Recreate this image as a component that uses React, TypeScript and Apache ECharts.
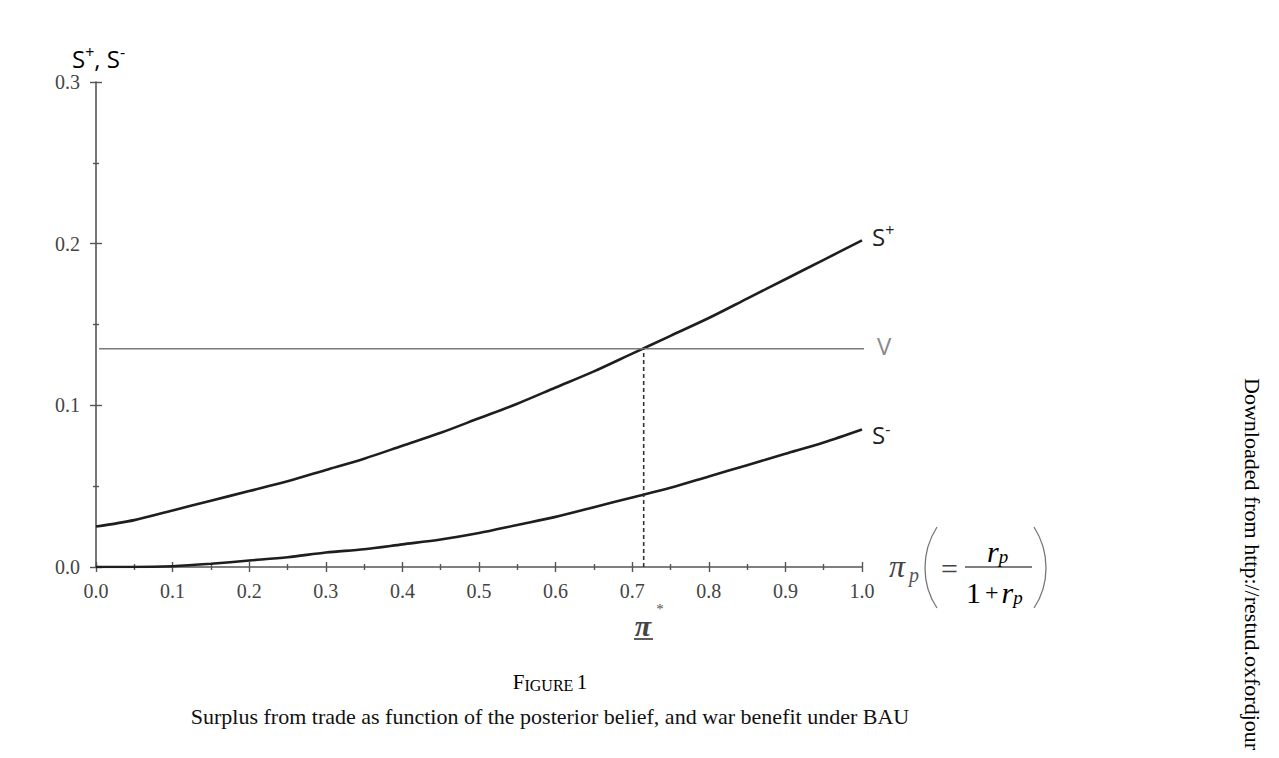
import { useEffect, useRef } from 'react'
import * as echarts from 'echarts'

// posterior belief grid (pi_p)
const xs = [0, 0.05, 0.1, 0.15, 0.2, 0.25, 0.3, 0.35, 0.4, 0.45, 0.5, 0.55, 0.6, 0.65, 0.7, 0.75, 0.8, 0.85, 0.9, 0.95, 1.0]
// surplus from trade, upper and lower
const sPlus = [0.025, 0.029, 0.035, 0.041, 0.047, 0.053, 0.06, 0.067, 0.075, 0.083, 0.092, 0.101, 0.111, 0.121, 0.132, 0.143, 0.154, 0.166, 0.178, 0.19, 0.202]
const sMinus = [0, 0, 0.0005, 0.002, 0.004, 0.006, 0.009, 0.011, 0.014, 0.017, 0.021, 0.026, 0.031, 0.037, 0.043, 0.049, 0.056, 0.063, 0.07, 0.077, 0.085]
// war benefit V and the threshold pi*
const warV = 0.135
const vSpan = [0.004, 1.013]
const piStar = 0.715

const xTicks = { min: 0, max: 1, interval: 0.1 }
const yTicks = { min: 0, max: 0.3, interval: 0.1 }

const SERIF = '"Liberation Serif", "Times New Roman", serif'
const SANS = '"Open Sans", "DejaVu Sans", sans-serif'
const AXIS = '#555'
const CURVE = '#1e1e1e'

const pair = (ys: number[]) => xs.map((x, i) => [x, ys[i]])

const supRich = {
  b: { fontFamily: SANS, fontSize: 24, color: '#222', lineHeight: 28 },
  u: { fontFamily: SANS, fontSize: 16, color: '#222', lineHeight: 14, verticalAlign: 'top' as const },
}

function axisPair(kind: 'x' | 'y') {
  const t = kind === 'x' ? xTicks : yTicks
  const len = kind === 'x' ? 5 : 6
  const common = {
    type: 'value' as const,
    min: t.min,
    max: t.max,
    interval: t.interval,
    splitLine: { show: false },
    axisLine: { show: true, onZero: false, lineStyle: { color: AXIS, width: 1.6 } },
    axisTick: { show: true, length: len, lineStyle: { color: AXIS, width: 1.4 } },
    minorTick: { show: true, splitNumber: 2, length: 3, lineStyle: { color: AXIS, width: 1.4 } },
  }
  return [
    {
      ...common,
      position: kind === 'x' ? 'bottom' : 'left',
      axisLabel: {
        color: '#444',
        fontFamily: SERIF,
        fontSize: 20,
        margin: kind === 'x' ? 14 : 16,
        formatter: (v: number) => v.toFixed(1),
      },
    },
    {
      ...common,
      position: kind === 'x' ? 'bottom' : 'left',
      axisLine: { show: false, onZero: false },
      axisTick: { ...common.axisTick, inside: true },
      axisLabel: { show: false },
    },
  ]
}

export default function App() {
  const ref = useRef<HTMLDivElement | null>(null)

  useEffect(() => {
    const el = ref.current
    if (!el) return
    const chart = echarts.init(el, undefined, { renderer: 'svg' })

    chart.setOption({
      animation: false,
      backgroundColor: '#fff',
      grid: { left: 96, right: 417, top: 82, bottom: 191, containLabel: false },
      xAxis: axisPair('x'),
      yAxis: axisPair('y'),
      series: [
        {
          name: 'S+',
          type: 'line',
          data: pair(sPlus),
          smooth: 0.3,
          showSymbol: false,
          lineStyle: { color: CURVE, width: 2.6 },
          endLabel: { show: true, formatter: '{b|S}{u|+}', distance: 10, offset: [0, -4], rich: supRich },
        },
        {
          name: 'S-',
          type: 'line',
          data: pair(sMinus),
          smooth: 0.3,
          showSymbol: false,
          lineStyle: { color: CURVE, width: 2.6 },
          endLabel: { show: true, formatter: '{b|S}{u|-}', distance: 10, offset: [0, 5], rich: supRich },
        },
        {
          name: 'V',
          type: 'line',
          data: vSpan.map((x) => [x, warV]),
          clip: false,
          showSymbol: false,
          lineStyle: { color: '#7a7a7a', width: 1.6 },
          endLabel: {
            show: true,
            formatter: 'V',
            distance: 13,
            offset: [0, -3],
            color: '#8a8a8a',
            fontFamily: SANS,
            fontSize: 24,
          },
        },
        {
          name: 'pi*',
          type: 'line',
          data: [[piStar, 0], [piStar, warV]],
          showSymbol: false,
          lineStyle: { color: '#333', width: 1.6, type: [4, 3] },
        },
      ],
      graphic: [
        // y axis title
        {
          type: 'text',
          x: 72,
          y: 58,
          style: {
            text: '{b|S}{u|+}{b|, S}{u|-}',
            rich: supRich,
            textVerticalAlign: 'middle',
          },
        },
        // pi* under the axis
        {
          type: 'text',
          x: 643,
          y: 625,
          style: { text: 'π', font: `italic bold 30px ${SERIF}`, fill: '#444', textAlign: 'center', textVerticalAlign: 'middle' },
        },
        {
          type: 'text',
          x: 660,
          y: 609,
          style: { text: '*', font: `15px ${SERIF}`, fill: '#555', textAlign: 'center', textVerticalAlign: 'middle' },
        },
        { type: 'line', shape: { x1: 634, y1: 639, x2: 653, y2: 639 }, style: { stroke: '#333', lineWidth: 1.6 } },
        // x axis name: pi_p (= r_p / (1 + r_p))
        {
          type: 'text',
          x: 889,
          y: 566,
          style: { text: 'π', font: `italic 32px ${SERIF}`, fill: '#444', textVerticalAlign: 'middle' },
        },
        {
          type: 'text',
          x: 909,
          y: 575,
          style: { text: 'p', font: `italic 20px ${SERIF}`, fill: '#555', textVerticalAlign: 'middle' },
        },
        {
          type: 'bezierCurve',
          shape: { x1: 937, y1: 527, cpx1: 921, cpy1: 552, cpx2: 921, cpy2: 584, x2: 937, y2: 608 },
          style: { stroke: '#777', lineWidth: 1.3, fill: 'none' },
        },
        {
          type: 'text',
          x: 941,
          y: 568,
          style: { text: '=', font: `30px ${SERIF}`, fill: '#444', textVerticalAlign: 'middle' },
        },
        { type: 'line', shape: { x1: 965, y1: 567, x2: 1032, y2: 567 }, style: { stroke: '#555', lineWidth: 1.5 } },
        {
          type: 'text',
          x: 987,
          y: 551,
          style: {
            text: '{i|r}{s|p}',
            textVerticalAlign: 'middle',
            rich: {
              i: { font: `italic 30px ${SERIF}`, color: '#444', lineHeight: 30 },
              s: { font: `italic 19px ${SERIF}`, color: '#555', lineHeight: 19, verticalAlign: 'bottom' },
            },
          },
        },
        {
          type: 'text',
          x: 966,
          y: 592,
          style: {
            text: '{n|1}{o|+}{i|r}{s|p}',
            textVerticalAlign: 'middle',
            rich: {
              n: { font: `30px ${SERIF}`, color: '#444', lineHeight: 30 },
              o: { font: `24px ${SERIF}`, color: '#555', lineHeight: 30, padding: [0, 3, 0, 4] },
              i: { font: `italic 30px ${SERIF}`, color: '#444', lineHeight: 30 },
              s: { font: `italic 19px ${SERIF}`, color: '#555', lineHeight: 19, verticalAlign: 'bottom' },
            },
          },
        },
        {
          type: 'bezierCurve',
          shape: { x1: 1034, y1: 527, cpx1: 1050, cpy1: 552, cpx2: 1050, cpy2: 584, x2: 1034, y2: 608 },
          style: { stroke: '#777', lineWidth: 1.3, fill: 'none' },
        },
        // caption
        {
          type: 'text',
          x: 550,
          y: 682,
          style: {
            text: '{c|F}{s|IGURE} {c|1}',
            textAlign: 'center',
            textVerticalAlign: 'middle',
            rich: {
              c: { font: `21px ${SERIF}`, color: '#111', lineHeight: 22 },
              s: { font: `16px ${SERIF}`, color: '#111', lineHeight: 17, verticalAlign: 'bottom' },
            },
          },
        },
        {
          type: 'text',
          x: 550,
          y: 716,
          style: {
            text: 'Surplus from trade as function of the posterior belief, and war benefit under BAU',
            font: `22px ${SERIF}`,
            fill: '#111',
            textAlign: 'center',
            textVerticalAlign: 'middle',
          },
        },
        // side watermark, read top to bottom
        {
          type: 'text',
          x: 1252,
          y: 378,
          rotation: -Math.PI / 2,
          style: {
            text: '{k|Downloaded from }{l|http://restud.oxfordjour}',
            textVerticalAlign: 'middle',
            rich: {
              k: { font: `22px ${SERIF}`, color: '#111' },
              l: { font: `22px ${SERIF}`, color: '#1a1aee' },
            },
          },
        },
      ],
    })

    return () => chart.dispose()
  }, [])

  return <div ref={ref} style={{ position: 'absolute', left: 0, top: 0, width: 1279, height: 758 }} />
}
